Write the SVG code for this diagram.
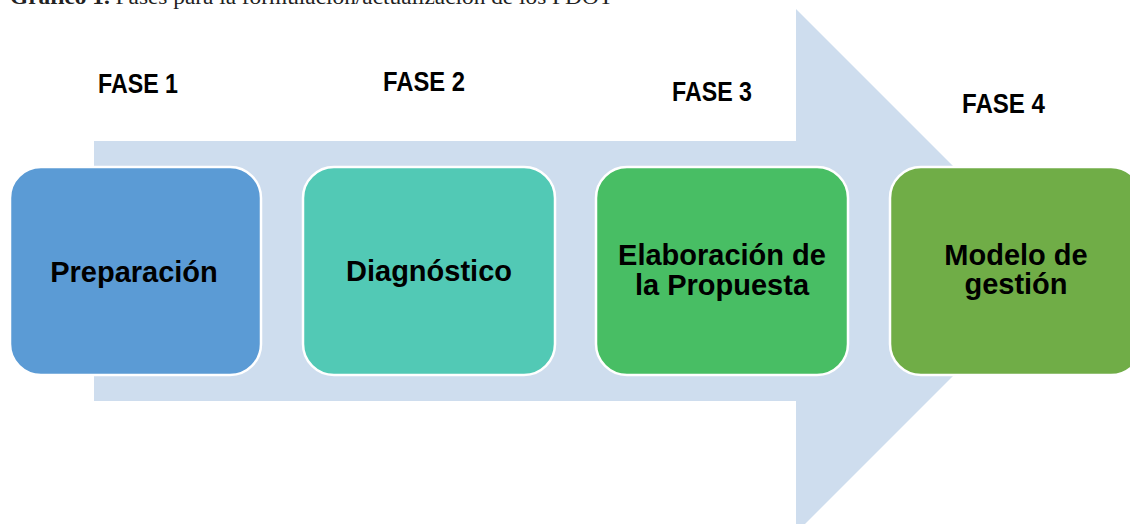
<svg xmlns="http://www.w3.org/2000/svg" width="1130" height="524" viewBox="0 0 1130 524">
<style>
.box{stroke:#FFFFFF;stroke-width:2.5}
.lbl{font-family:"Liberation Sans",Arial,sans-serif;font-weight:bold;font-size:29px;fill:#000;text-anchor:middle}
.fase{font-family:"Liberation Sans",Arial,sans-serif;font-weight:bold;font-size:28px;fill:#000}
.cap{font-family:"Liberation Serif","Times New Roman",serif;font-size:20px;fill:#222}
</style>
<rect width="1130" height="524" fill="#FFFFFF"/>
<text class="cap" x="10" y="4" textLength="603" lengthAdjust="spacingAndGlyphs"><tspan font-weight="bold">Gráfico 1.</tspan> Fases para la formulación/actualización de los PDOT</text>
<g id="connectors">
<polygon points="94,141 796,141 796,9 1058,271 796,533 796,401 94,401" fill="#CEDDEE"/>
</g>
<g id="fase1"><text class="fase" x="98" y="93" textLength="80" lengthAdjust="spacingAndGlyphs">FASE 1</text></g>
<g id="fase2"><text class="fase" x="383" y="91" textLength="82" lengthAdjust="spacingAndGlyphs">FASE 2</text></g>
<g id="fase3"><text class="fase" x="672" y="101" textLength="80" lengthAdjust="spacingAndGlyphs">FASE 3</text></g>
<g id="fase4"><text class="fase" x="962" y="113" textLength="83" lengthAdjust="spacingAndGlyphs">FASE 4</text></g>
<g id="node1">
<rect class="box" x="10" y="167" width="251" height="208" rx="31" fill="#5B9BD5"/>
<text class="lbl" x="134" y="282">Preparación</text>
</g>
<g id="node2">
<rect class="box" x="303" y="167" width="252" height="208" rx="31" fill="#52C9B5"/>
<text class="lbl" x="429" y="281">Diagnóstico</text>
</g>
<g id="node3">
<rect class="box" x="596" y="167" width="252" height="208" rx="31" fill="#48BE64"/>
<text class="lbl" x="722" y="265">Elaboración de</text>
<text class="lbl" x="722" y="295">la Propuesta</text>
</g>
<g id="node4">
<rect class="box" x="890" y="167" width="252" height="208" rx="31" fill="#70AD47"/>
<text class="lbl" x="1016" y="265">Modelo de</text>
<text class="lbl" x="1016" y="294">gestión</text>
</g>
</svg>
